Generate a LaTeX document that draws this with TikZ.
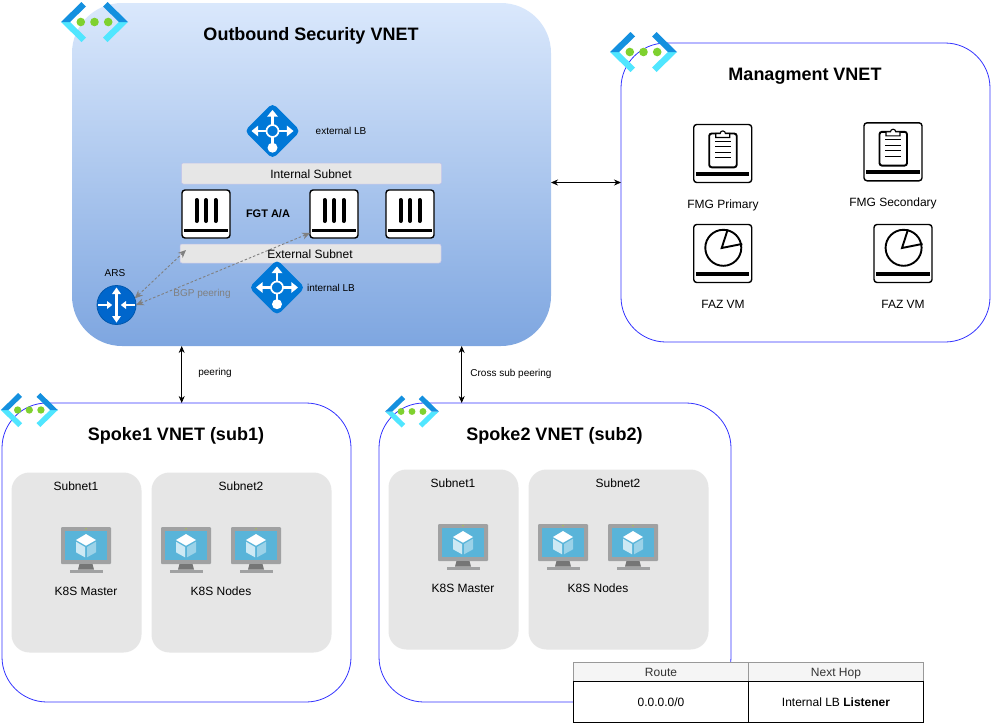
\documentclass[tikz,border=0pt]{standalone}
\usepackage{fontspec}
\setmainfont{Liberation Sans}
\usetikzlibrary{arrows.meta}

\definecolor{vnettop}{HTML}{DAE8FC}
\definecolor{vnetbot}{HTML}{7EA6E0}
\definecolor{vnetline}{HTML}{3333FF}
\definecolor{subfill}{HTML}{E6E6E6}
\definecolor{lbblue}{HTML}{0078D7}
\definecolor{arsblue}{HTML}{0066CC}
\definecolor{chevdark}{HTML}{1490DF}
\definecolor{chevlight}{HTML}{50E6FF}
\definecolor{dotgreen}{HTML}{7FD12F}
\definecolor{vmgray}{HTML}{A0A1A2}
\definecolor{vmdark}{HTML}{767676}
\definecolor{vmblue}{HTML}{59B4D9}

\tikzset{
  labeltext/.style={inner sep=0pt, text height=8.6pt, text depth=0pt, font=\fontsize{12}{14}\selectfont},
  smalltext/.style={inner sep=0pt, text height=7.2pt, text depth=0pt, font=\fontsize{10}{12}\selectfont},
  titletext/.style={inner sep=0pt, text height=12.9pt, text depth=0pt, font=\fontsize{18}{21}\selectfont\bfseries},
  vnetbox/.style={draw=vnetline, line width=0.8pt, fill=white, rounded corners=45pt, inner sep=0pt, outer sep=0pt},
  subnetbox/.style={fill=subfill, rounded corners=18pt, inner sep=0pt, outer sep=0pt},
  subnetbar/.style={fill=subfill, draw=subfill!85!blue, line width=0.5pt, rounded corners=2pt, inner sep=0pt, outer sep=0pt},
  devbox/.style={draw=black, fill=white, line width=1.4pt, rounded corners=3pt, inner sep=0pt, outer sep=0pt},
  tablecell/.style={draw=black, line width=0.8pt, fill=white, inner sep=0pt, outer sep=0pt, font=\fontsize{12}{14}\selectfont},
  tablehead/.style={draw=gray!80, line width=0.8pt, fill=black!4, text=black!80, inner sep=0pt, outer sep=0pt, font=\fontsize{12}{14}\selectfont},
  biarrow/.style={{Stealth[length=7pt,width=6pt]}-{Stealth[length=7pt,width=6pt]}, line width=0.7pt},
  bgparrow/.style={{Stealth[length=8pt,width=7pt]}-{Stealth[length=8pt,width=7pt]}, draw=black!50, dash pattern=on 2.5pt off 2pt, line width=0.9pt},
  % icon with the three green dots
  vneticon/.pic={
    \foreach \sx in {-1,1} {
      \fill[chevlight] (\sx*33.5,0) -- (\sx*13,20) -- (\sx*8.5,15.5) -- (\sx*24.5,0) -- cycle;
      \fill[chevdark] (\sx*33.5,0) -- (\sx*13,-20) -- (\sx*8.5,-15.5) -- (\sx*24.5,0) -- cycle;
    }
    \foreach \dx in {-13.7,0,13.7}
      \fill[dotgreen] (\dx,0) circle (4.3);
  },
  % load balancer
  lbicon/.pic={
    \fill[lbblue, rounded corners=5pt] (0,-28) -- (28,0) -- (0,28) -- (-28,0) -- cycle;
    \draw[white, line width=2.8pt] (0,-6) -- (0,-16) (0,6) -- (0,13) (-6,0) -- (-15,0) (6,0) -- (15,0);
    \fill[white] (0,-21) -- (5.5,-14.3) -- (-5.5,-14.3) -- cycle;
    \fill[white] (-21,0) -- (-14.3,5.5) -- (-14.3,-5.5) -- cycle;
    \fill[white] (21,0) -- (14.3,5.5) -- (14.3,-5.5) -- cycle;
    \fill[white] (0,16.7) circle (5);
    \draw[white, line width=1.7pt] (0,0) circle (6);
  },
  % firewall box
  fgticon/.pic={
    \node[devbox, minimum size=48pt] (-box) at (0,0) {};
    \foreach \bx in {-9.5,0,9.5}
      \draw[line width=4pt, line cap=round, black] (\bx,-14) -- (\bx,7);
    \fill[black] (-22,14.6) rectangle (22,18.2);
  },
  % manager box with clipboard
  fmgicon/.pic={
    \node[devbox, minimum size=58pt] (-box) at (0,0) {};
    \fill[black] (-26.7,18.5) rectangle (26.7,22.5);
    \draw[line width=1.9pt, rounded corners=2.5pt] (-13.5,-20) rectangle (14,13.8);
    \draw[line width=1.1pt, fill=white] (-7,-16) -- (-7,-20) -- (-2.5,-20) arc[start angle=180, end angle=360, x radius=2.6, y radius=2.6] -- (7,-20) -- (7,-16) -- cycle;
    \foreach \ly in {-12.5,-6.8,-1.5,4.2}
      \draw[line width=1pt] (-7.7,\ly) -- (8,\ly);
  },
  % analyzer box with pie
  fazicon/.pic={
    \node[devbox, minimum size=58pt] (-box) at (0,0) {};
    \fill[black] (-26.7,18.5) rectangle (26.7,22.5);
    \draw[line width=1.9pt] (0.6,-5.7) circle (18);
    \draw[line width=1.9pt] (5,-24) -- (-1,-5.5) -- (19.5,-9.6);
  },
  % monitor with cube, origin at top centre
  vmicon/.pic={
    \fill[vmgray, rounded corners=1pt] (-25,0) rectangle (25,37);
    \fill[vmblue] (-21,3.5) rectangle (21.3,33);
    \fill[yellow!70!green] (0,1.7) circle (0.6);
    \fill[vmdark] (-6.5,37) -- (6.5,37) -- (8,42.5) -- (-8,42.5) -- cycle;
    \fill[vmgray] (-16.5,42.5) rectangle (16.5,46);
    \fill[white] (0,7) -- (10,13) -- (0,18.7) -- (-10,13) -- cycle;
    \fill[white!70!vmblue] (-10,14.7) -- (-1,20) -- (-1,30.3) -- (-10,25.3) -- cycle;
    \fill[white!40!vmblue] (10,14.7) -- (1,20) -- (1,30.3) -- (10,25.3) -- cycle;
  },
  % router arrows
  arsarrows/.pic={
    \draw[white, line width=2.6pt] (0,-13) -- (0,13);
    \draw[white, line width=2pt] (-18.5,0) -- (-8,0) (18.5,0) -- (8,0);
    \fill[white] (0,-17.5) -- (4.5,-11) -- (-4.5,-11) -- cycle;
    \fill[white] (0,17.5) -- (4.5,11) -- (-4.5,11) -- cycle;
    \fill[white] (-4.3,0) -- (-9.5,-4) -- (-9.5,4) -- cycle;
    \fill[white] (4.3,0) -- (9.5,-4) -- (9.5,4) -- cycle;
  }
}

\begin{document}
\begin{tikzpicture}[x=1pt, y=-1pt]
\useasboundingbox (0,0) rectangle (991,723);

% Outer boxes
\node[top color=vnettop, bottom color=vnetbot, rounded corners=50pt, minimum width=479pt, minimum height=343pt, inner sep=0pt, outer sep=0pt] (outbound) at (311.5,174.5) {};
\node[vnetbox, minimum width=369pt, minimum height=299pt] (mgmt) at (805.5,192.5) {};
\node[vnetbox, minimum width=349pt, minimum height=299pt] (spokeone) at (176.5,552.5) {};
\node[vnetbox, minimum width=352pt, minimum height=299pt] (spoketwo) at (555,552.5) {};

% Titles
\node[titletext] (outtitle) at (311,34) {Outbound Security VNET};
\node[titletext] (mgmttitle) at (805,74) {Managment VNET};
\node[titletext] (onetitle) at (176,434) {Spoke1 VNET (sub1)};
\node[titletext] (twotitle) at (554.5,434) {Spoke2 VNET (sub2)};

% VNET icons
\pic at (94.5,22) {vneticon};
\pic at (643.5,52) {vneticon};
\pic[scale=0.85] at (29.3,410) {vneticon};
\pic[scale=0.8] at (412,411.5) {vneticon};

% Outbound content
\pic at (272.5,131) {lbicon};
\node[smalltext] (extlb) at (341,131) {external LB};
\node[subnetbar, minimum width=260pt, minimum height=21pt] (intsub) at (311.5,173.5) {};
\node[labeltext] (intsubtext) at (311,173.7) {Internal Subnet};
\pic (fgta) at (206,214) {fgticon};
\pic (fgtb) at (334,214) {fgticon};
\pic (fgtc) at (410,214) {fgticon};
\node[inner sep=0pt, text height=7.9pt, text depth=0pt, font=\fontsize{11}{13}\selectfont\bfseries] (fgtlabel) at (268,214) {FGT A/A};
\node[subnetbar, minimum width=261pt, minimum height=19pt] (extsub) at (310.5,253.5) {};
\pic at (277,287.5) {lbicon};
\node[smalltext] (intlb) at (331,288.3) {internal LB};
\node[smalltext] (arslabel) at (115,273) {ARS};
\node[circle, fill=arsblue, draw=arsblue!85!black, line width=0.8pt, minimum size=39pt, inner sep=0pt, outer sep=0pt] (ars) at (116.5,305) {};
\pic at (116.5,305) {arsarrows};

% BGP links
\draw[bgparrow] (ars.20) -- ([xshift=6pt,yshift=3.5pt]extsub.west);
\draw[bgparrow] (ars.east) -- ([yshift=5pt]fgtb-box.south west);
\node[labeltext] (extsubtext) at (310,253.7) {External Subnet};
\node[smalltext, text=black!50] (bgplabel) at (202,293.2) {BGP peering};

% Management content
\pic (fmga) at (722.7,153.5) {fmgicon};
\pic (fmgb) at (893,151.8) {fmgicon};
\pic (faza) at (722.7,253.5) {fazicon};
\pic (fazb) at (903,253.5) {fazicon};
\node[labeltext] (fmgalabel) at (723,203.7) {FMG Primary};
\node[labeltext] (fmgblabel) at (893,202) {FMG Secondary};
\node[labeltext] (fazalabel) at (723,304) {FAZ VM};
\node[labeltext] (fazblabel) at (903,304) {FAZ VM};

% Peering links
\coordinate (mgmtlink) at (586,182.5);
\coordinate (onelink) at (181.7,375);
\coordinate (twolink) at (461.7,375);
\draw[biarrow] (outbound.east |- mgmtlink) -- (mgmt.west |- mgmtlink);
\draw[biarrow] (outbound.south -| onelink) -- (spokeone.north -| onelink);
\draw[biarrow] (outbound.south -| twolink) -- (spoketwo.north -| twolink);
\node[smalltext] (onepeer) at (215,372) {peering};
\node[smalltext] (twopeer) at (511,373) {Cross sub peering};

% Spoke1 content
\node[subnetbox, minimum width=130pt, minimum height=180pt] (onesuba) at (76.5,562.5) {};
\node[subnetbox, minimum width=180pt, minimum height=180pt] (onesubb) at (241.5,562.5) {};
\node[labeltext] (onesubatext) at (76,486) {Subnet1};
\node[labeltext] (onesubbtext) at (241,486) {Subnet2};
\foreach \vx in {86,186,256}
  \pic at (\vx,527) {vmicon};
\node[labeltext] (onemaster) at (86,591) {K8S Master};
\node[labeltext] (onenodes) at (221,591) {K8S Nodes};

% Spoke2 content
\node[subnetbox, minimum width=130pt, minimum height=180pt] (twosuba) at (453.5,559.5) {};
\node[subnetbox, minimum width=180pt, minimum height=180pt] (twosubb) at (618.5,559.5) {};
\node[labeltext] (twosubatext) at (453,483) {Subnet1};
\node[labeltext] (twosubbtext) at (618,483) {Subnet2};
\foreach \vx in {463,563,633}
  \pic at (\vx,524) {vmicon};
\node[labeltext] (twomaster) at (463,588) {K8S Master};
\node[labeltext] (twonodes) at (598,588) {K8S Nodes};

% Route table
\node[tablehead, text height=8.6pt, text depth=0pt, minimum width=175pt, minimum height=19pt] (routehead) at (661,672) {Route};
\node[tablehead, text height=8.6pt, text depth=0pt, minimum width=175pt, minimum height=19pt] (hophead) at (836,672) {Next Hop};
\node[tablecell, text height=8.6pt, text depth=0pt, minimum width=175pt, minimum height=41pt] (routecell) at (661,702) {0.0.0.0/0};
\node[tablecell, text height=8.6pt, text depth=0pt, minimum width=175pt, minimum height=41pt] (hopcell) at (836,702) {Internal LB \textbf{Listener}};
\end{tikzpicture}
\end{document}
